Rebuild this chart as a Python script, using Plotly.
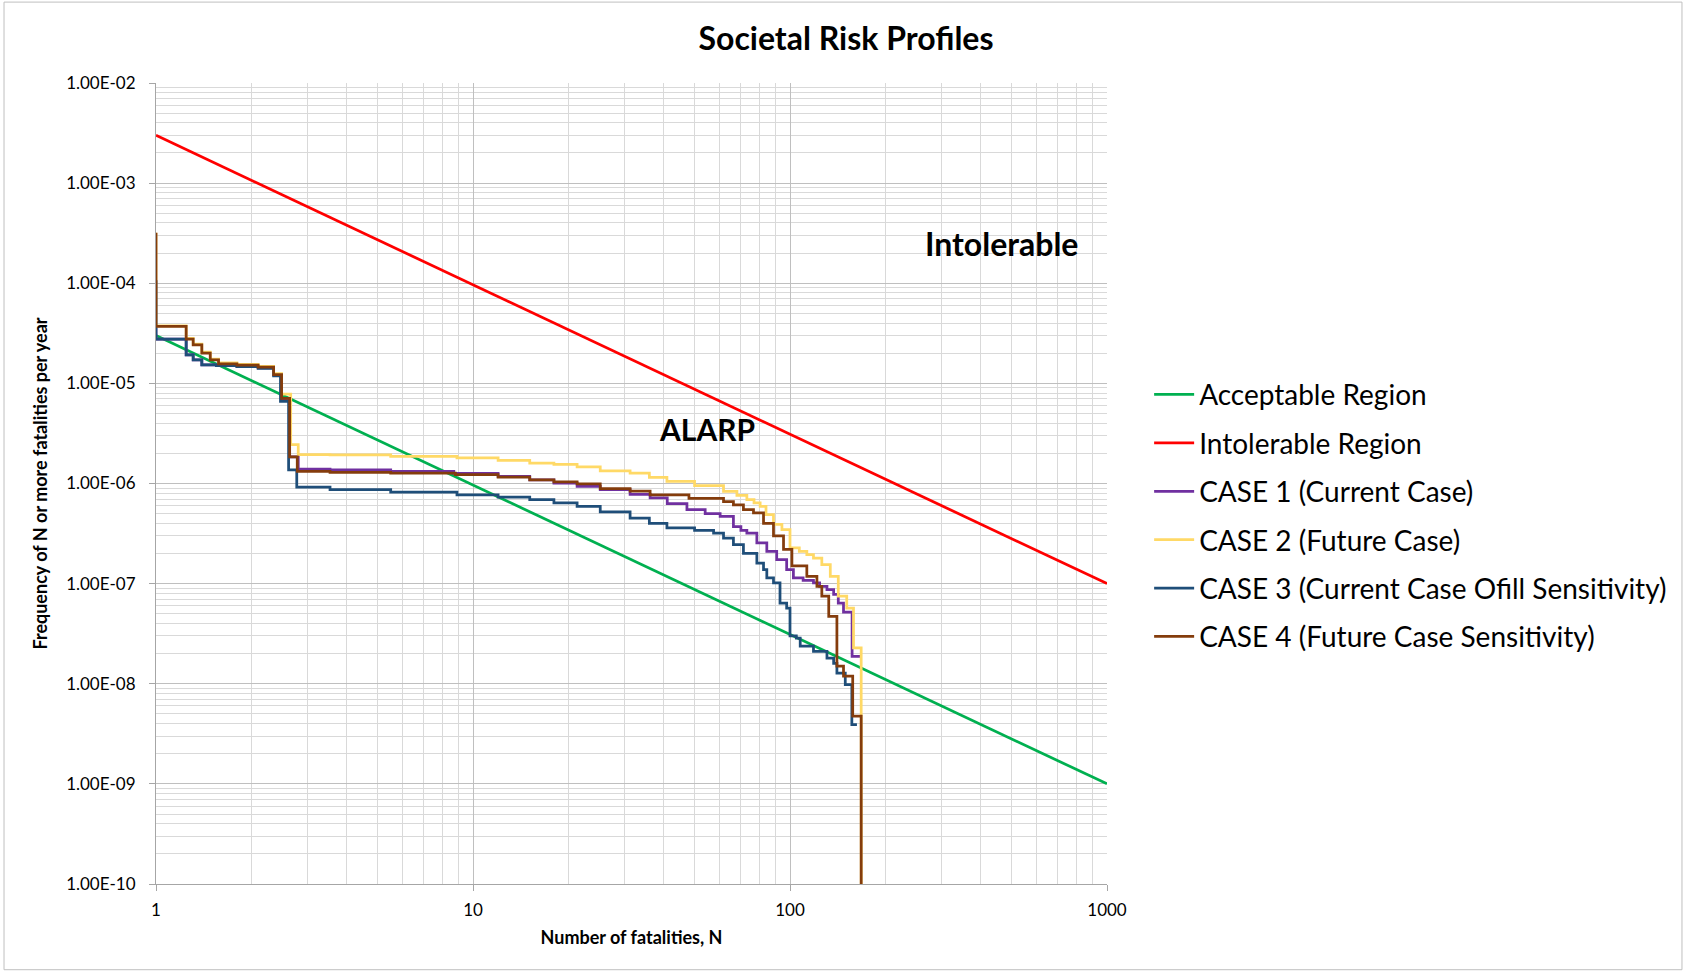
import plotly.graph_objects as go

# ---------------- data ----------------
accept_N = [1, 1000]
accept_F = [3.0e-5, 1.0e-9]

intol_N = [1, 1000]
intol_F = [3.0e-3, 1.0e-7]

case1_N = [1, 1, 1.245, 1.31, 1.395, 1.55, 1.8, 2.1, 2.35, 2.49, 2.64, 2.81, 3.54, 5.5, 8.7, 12, 15.1, 18, 21.3, 25.2, 31.3,
           36.2, 41, 47.3, 54, 60.2, 66.3, 70, 73.1, 78.6, 84.5, 90.8, 97.6, 102.5, 110, 118.6, 124, 130.8, 137.3,
           142, 147.5, 157, 167.7]
case1_F = [3.6e-5, 2.77e-5, 1.93e-5, 1.72e-5, 1.53e-5, 1.5e-5, 1.48e-5, 1.43e-5, 1.21e-5, 6.8e-6, 1.84e-6, 1.39e-6, 1.37e-6,
           1.32e-6, 1.26e-6, 1.18e-6, 1.09e-6, 1.01e-6, 9.35e-7, 8.7e-7, 7.8e-7,
           7.2e-7, 6.3e-7, 5.5e-7, 5.0e-7, 4.7e-7, 3.7e-7, 3.4e-7, 3.2e-7, 2.55e-7, 2.1e-7, 1.74e-7, 1.38e-7, 1.14e-7,
           1.08e-7, 1.02e-7, 9.4e-8, 8.7e-8, 7.8e-8, 6.4e-8, 5.2e-8, 1.88e-8, 1.88e-8]

case2_N = [1, 1, 1.245, 1.31, 1.395, 1.483, 1.575, 1.8, 2.1, 2.35, 2.49, 2.66, 2.81, 3.54, 5.5, 8.9, 12, 15.1, 18, 21.3,
           25.2, 31.3, 36, 40.9, 50, 61.7, 68, 73.1, 77, 80.5, 84, 88.7, 94.3, 100, 107, 113, 118.6, 126, 134, 142,
           151, 158.6, 167.7, 167.7]
case2_F = [3.2e-4, 3.75e-5, 2.82e-5, 2.47e-5, 2.05e-5, 1.75e-5, 1.6e-5, 1.55e-5, 1.48e-5, 1.25e-5, 7.8e-6, 2.44e-6, 1.94e-6,
           1.93e-6, 1.87e-6, 1.8e-6, 1.7e-6, 1.6e-6, 1.55e-6, 1.47e-6,
           1.34e-6, 1.27e-6, 1.15e-6, 1.05e-6, 9.5e-7, 8.35e-7, 7.6e-7, 6.9e-7, 6.4e-7, 5.9e-7, 4.9e-7, 3.9e-7, 3.47e-7,
           2.27e-7, 2.1e-7, 1.95e-7, 1.8e-7, 1.55e-7, 1.18e-7, 7.5e-8, 5.7e-8, 2.28e-8, 2.28e-8, 1e-12]

case3_N = [1, 1, 1.245, 1.31, 1.395, 1.55, 1.8, 2.1, 2.35, 2.47, 2.62, 2.78, 3.54, 5.5, 8.9, 12, 15.1, 18, 21.3, 25.2,
           31.3, 36, 40.9, 50, 57.4, 61.7, 66.3, 71.3, 78.6, 82.5, 84.5, 88.7, 93, 97.6, 100, 104.7, 107.7, 118.6,
           130.8, 137.3, 140.6, 149.4, 156.7, 162.6]
case3_F = [1.07e-4, 2.77e-5, 1.93e-5, 1.72e-5, 1.53e-5, 1.5e-5, 1.47e-5, 1.41e-5, 1.19e-5, 6.6e-6, 1.37e-6, 9.2e-7,
           8.7e-7, 8.2e-7, 7.7e-7, 7.3e-7, 6.9e-7, 6.4e-7, 5.9e-7, 5.2e-7,
           4.5e-7, 4.0e-7, 3.6e-7, 3.4e-7, 3.2e-7, 2.85e-7, 2.45e-7, 2.0e-7, 1.6e-7, 1.38e-7, 1.14e-7, 1.02e-7, 6.4e-8,
           5.7e-8, 3.0e-8, 2.85e-8, 2.37e-8, 2.1e-8, 1.8e-8, 1.6e-8, 1.28e-8, 9.8e-9, 3.9e-9, 3.9e-9]

case4_N = [1, 1, 1.245, 1.31, 1.395, 1.483, 1.575, 1.8, 2.1, 2.35, 2.49, 2.64, 2.79, 3.54, 5.5, 8.8, 12, 15.1, 18, 21.3,
           25.2, 31.3, 36.2, 48, 61.7, 66.3, 71.3, 76.7, 82.5, 88.7, 95.4, 101.4, 113, 121.6, 126, 132.5, 140.6,
           147.5, 157.7, 167.7, 167.7]
case4_F = [3.2e-4, 3.7e-5, 2.77e-5, 2.43e-5, 2.0e-5, 1.72e-5, 1.57e-5, 1.52e-5, 1.45e-5, 1.22e-5, 7.1e-6, 1.84e-6, 1.32e-6,
           1.29e-6, 1.27e-6, 1.23e-6, 1.16e-6, 1.09e-6, 1.04e-6, 9.9e-7,
           8.9e-7, 8.4e-7, 7.7e-7, 7.1e-7, 6.6e-7, 6.1e-7, 5.5e-7, 5.1e-7, 4.0e-7, 3.0e-7, 2.2e-7, 1.5e-7, 1.18e-7,
           9.4e-8, 7.5e-8, 4.7e-8, 1.5e-8, 1.19e-8, 4.74e-9, 4.74e-9, 1e-12]

x_tickvals = [1, 10, 100, 1000]
x_ticktext = ["1", "10", "100", "1000"]
y_tickvals = [1e-10, 1e-9, 1e-8, 1e-7, 1e-6, 1e-5, 1e-4, 1e-3, 1e-2]
y_ticktext = ["1.00E-10", "1.00E-09", "1.00E-08", "1.00E-07", "1.00E-06",
              "1.00E-05", "1.00E-04", "1.00E-03", "1.00E-02"]

names = ["Acceptable Region", "Intolerable Region", "CASE 1 (Current Case)", "CASE 2 (Future Case)",
         "CASE 3 (Current Case Ofill Sensitivity)", "CASE 4 (Future Case Sensitivity)"]
colors = ["#00B050", "#FF0000", "#7030A0", "#FFD966", "#1F4E79", "#843C0C"]

FONT = "Lato"

# ---------------- figure ----------------
fig = go.Figure()
series = [(accept_N, accept_F, "linear"), (intol_N, intol_F, "linear"),
          (case1_N, case1_F, "hv"), (case2_N, case2_F, "hv"),
          (case3_N, case3_F, "hv"), (case4_N, case4_F, "hv")]
for i, (xs, ys, shp) in enumerate(series):
    fig.add_trace(go.Scatter(x=xs, y=ys, mode="lines", name=names[i],
                             line=dict(color=colors[i], width=2.75, shape=shp),
                             legendgroup=str(i)))

x_minor = [m * 10 ** e for e in range(0, 3) for m in range(2, 10)]
y_minor = [m * 10.0 ** e for e in range(-10, -2) for m in range(2, 10)]

fig.update_xaxes(type="log", range=[0, 3], tickmode="array", tickvals=x_tickvals, ticktext=x_ticktext,
                 showgrid=True, gridcolor="#BFBFBF", gridwidth=1,
                 minor=dict(tickmode="array", tickvals=x_minor, showgrid=True, gridcolor="#D9D9D9", gridwidth=1),
                 showline=True, linecolor="#A6A6A6", linewidth=1, ticks="outside", ticklen=6, tickcolor="#A6A6A6",
                 ticklabelstandoff=5, tickfont=dict(family=FONT, size=17, color="#000000"),
                 title=dict(text="<b>Number of fatalities, N</b>", font=dict(family=FONT, size=18, color="#000000"),
                            standoff=11),
                 zeroline=False)
fig.update_yaxes(type="log", range=[-10, -2], tickmode="array", tickvals=y_tickvals, ticktext=y_ticktext,
                 showgrid=True, gridcolor="#BFBFBF", gridwidth=1,
                 minor=dict(tickmode="array", tickvals=y_minor, showgrid=True, gridcolor="#D9D9D9", gridwidth=1),
                 showline=True, linecolor="#A6A6A6", linewidth=1, ticks="outside", ticklen=6, tickcolor="#A6A6A6",
                 ticklabelstandoff=10, tickfont=dict(family=FONT, size=17, color="#000000"),
                 title=dict(text="<b>Frequency of N or more fatalities per year</b>",
                            font=dict(family=FONT, size=18, color="#000000"), standoff=13),
                 zeroline=False)

fig.add_annotation(x=2.668, y=-3.607, xref="x", yref="y", text="<b>Intolerable</b>", showarrow=False,
                   font=dict(family=FONT, size=32, color="#000000"))
fig.add_annotation(x=1.739, y=-5.451, xref="x", yref="y", text="<b>ALARP</b>", showarrow=False,
                   font=dict(family=FONT, size=30, color="#000000"))

# outer chart border
fig.add_shape(type="rect", xref="paper", yref="paper", x0=-0.1598, x1=1.6046, y0=-0.107, y1=1.101,
              line=dict(color="#BFBFBF", width=1), fillcolor="rgba(0,0,0,0)", layer="below")

fig.update_layout(
    width=1685, height=973,
    margin=dict(l=156, r=578, t=83, b=89),
    paper_bgcolor="#FFFFFF", plot_bgcolor="#FFFFFF",
    title=dict(text="<b>Societal Risk Profiles</b>", x=(846) / 1685, xanchor="center", y=1 - 38.5 / 973,
               yanchor="middle", font=dict(family=FONT, size=32, color="#000000")),
    legend=dict(x=1.0443, xanchor="left", y=0.642, yanchor="top", font=dict(family=FONT, size=28, color="#000000"),
                traceorder="grouped", tracegroupgap=9, bgcolor="rgba(0,0,0,0)", itemwidth=40),
    showlegend=True,
)

fig.write_html("out.html", config={"displayModeBar": False},
               post_script="document.body.style.margin='0';")
